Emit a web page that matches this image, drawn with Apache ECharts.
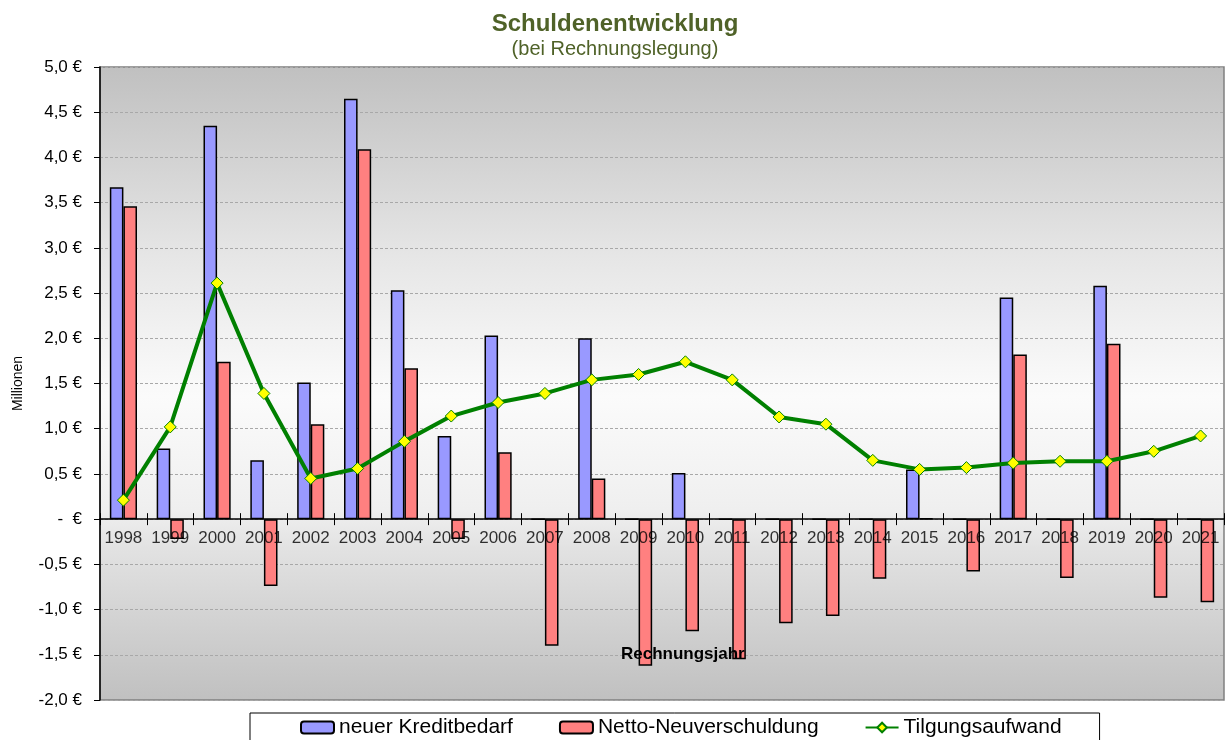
<!DOCTYPE html>
<html>
<head>
<meta charset="utf-8">
<script src="https://cdn.jsdelivr.net/npm/echarts@6/dist/echarts.min.js"></script>
<style>
html,body{margin:0;padding:0;background:#fff;}
#c{width:1230px;height:740px;}
</style>
</head>
<body>
<div id="c"></div>
<script>
const years = ['1998','1999','2000','2001','2002','2003','2004','2005','2006','2007','2008','2009','2010','2011','2012','2013','2014','2015','2016','2017','2018','2019','2020','2021'];
const kreditbedarf = [3.67,0.78,4.35,0.65,1.51,4.65,2.53,0.92,2.03,0,2.00,0,0.51,0,0,0,0,0.55,0,2.45,0,2.58,0,0];
const nettoNeuverschuldung = [3.46,-0.22,1.74,-0.74,1.05,4.09,1.67,-0.22,0.74,-1.40,0.45,-1.62,-1.24,-1.55,-1.15,-1.07,-0.66,0.01,-0.58,1.82,-0.65,1.94,-0.87,-0.92];
const tilgungsaufwand = [0.21,1.02,2.61,1.39,0.45,0.56,0.86,1.14,1.29,1.39,1.54,1.60,1.74,1.54,1.13,1.05,0.65,0.55,0.57,0.62,0.64,0.64,0.75,0.92];
const seriesNames = ['neuer Kreditbedarf','Netto-Neuverschuldung','Tilgungsaufwand'];

const FONT = 'Liberation Sans, Arial, sans-serif';
const chart = echarts.init(document.getElementById('c'), null, {renderer:'canvas'});
const fmt = v => (Math.abs(v) < 1e-9 ? '-  €' : v.toFixed(1).replace('.', ',') + ' €');

// category labels anchored at the zero line (drawn through the chart's scales)
const yearLabelPoints = years.map(y => [y, 0]);

chart.setOption({
  animation: false,
  backgroundColor: '#ffffff',
  title: {
    text: 'Schuldenentwicklung',
    subtext: '(bei Rechnungslegung)',
    left: 'center',
    top: 7,
    itemGap: 3,
    textStyle: {fontFamily: FONT, fontSize: 24, fontWeight: 'bold', color: '#4F6228'},
    subtextStyle: {fontFamily: FONT, fontSize: 20, color: '#4F6228'}
  },
  graphic: [{
    type: 'text',
    left: 621,
    top: 646,
    z: 100,
    style: {text: 'Rechnungsjahr', font: 'bold 17px ' + FONT, fill: '#000'}
  }],
  legend: {
    left: 250,
    top: 713,
    data: seriesNames,
    padding: [4, 38, 10, 50],
    itemGap: 46,
    itemWidth: 33,
    itemHeight: 12,
    borderColor: '#000',
    borderWidth: 1,
    backgroundColor: '#fff',
    textStyle: {fontFamily: FONT, fontSize: 21, color: '#000'}
  },
  grid: {
    left: 100, right: 6, top: 67, bottom: 40,
    show: true,
    borderColor: '#808080',
    borderWidth: 1.5,
    backgroundColor: new echarts.graphic.LinearGradient(0, 0, 0, 1, [
      {offset: 0, color: '#c0c0c0'},
      {offset: 0.3, color: '#e6e6e6'},
      {offset: 0.52, color: '#fbfbfb'},
      {offset: 0.7, color: '#efefef'},
      {offset: 0.76, color: '#e2e2e2'},
      {offset: 1, color: '#c0c0c0'}
    ])
  },
  xAxis: [{
    type: 'category',
    data: years,
    axisLine: {onZero: true, onZeroAxisIndex: 0, lineStyle: {color: '#000', width: 1.5}},
    axisTick: {show: true, length: 6, lineStyle: {color: '#000', width: 1}},
    axisLabel: {show: false},
    splitLine: {show: false}
  }, {
    type: 'category',
    data: years,
    position: 'bottom',
    axisLine: {show: false, onZero: true, onZeroAxisIndex: 0},
    axisTick: {show: true, inside: true, length: 6, lineStyle: {color: '#000', width: 1}},
    axisLabel: {show: false},
    splitLine: {show: false}
  }],
  yAxis: {
    type: 'value',
    min: -2, max: 5, interval: 0.5,
    name: 'Millionen',
    nameLocation: 'middle',
    nameRotate: 90,
    nameGap: 75,
    nameTextStyle: {fontFamily: FONT, fontSize: 14, color: '#000'},
    axisLine: {show: true, lineStyle: {color: '#000', width: 1.5}},
    axisTick: {show: true, length: 6, lineStyle: {color: '#000'}},
    axisLabel: {fontFamily: FONT, fontSize: 17, color: '#000', margin: 18, formatter: fmt},
    splitLine: {show: true, lineStyle: {color: '#a8a8a8', width: 1, type: [3, 2]}}
  },
  series: [{
    name: 'yearLabels',
    type: 'scatter',
    data: yearLabelPoints,
    symbolSize: 1,
    itemStyle: {color: 'rgba(0,0,0,0)'},
    z: 3,
    silent: true,
    label: {
      show: true,
      position: 'bottom',
      distance: 10,
      formatter: p => p.data[0],
      fontFamily: FONT, fontSize: 17, color: '#000'
    }
  }, {
    name: seriesNames[0],
    type: 'bar',
    data: kreditbedarf,
    barGap: '0%',
    barCategoryGap: '42%',
    z: 2,
    itemStyle: {color: '#9999FF', borderColor: '#000', borderWidth: 1.5}
  }, {
    name: seriesNames[1],
    type: 'bar',
    data: nettoNeuverschuldung,
    barGap: '0%',
    barCategoryGap: '42%',
    z: 2,
    itemStyle: {color: '#FF8080', borderColor: '#000', borderWidth: 1.5}
  }, {
    name: seriesNames[2],
    type: 'line',
    data: tilgungsaufwand,
    symbol: 'diamond',
    symbolSize: 12,
    z: 5,
    lineStyle: {color: '#008000', width: 4},
    itemStyle: {color: '#FFFF00', borderColor: '#008000', borderWidth: 1}
  }]
});
</script>
</body>
</html>
